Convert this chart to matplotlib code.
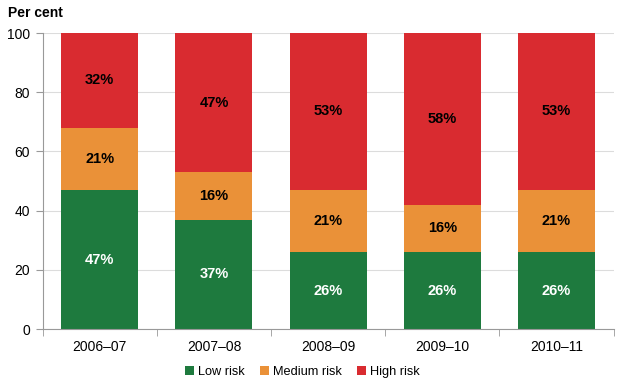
import matplotlib.pyplot as plt
import numpy as np

years = ["2006–07", "2007–08", "2008–09", "2009–10", "2010–11"]
low = [47, 37, 26, 26, 26]
medium = [21, 16, 21, 16, 21]
high = [32, 47, 53, 58, 53]

series = [("Low risk", low, "#1e7a3e", "white"),
          ("Medium risk", medium, "#ea9138", "black"),
          ("High risk", high, "#d92b30", "black")]

plt.rcParams["font.family"] = ["Liberation Sans", "DejaVu Sans"]

fig = plt.figure(figsize=(6.28, 3.84), dpi=100)
ax = fig.add_axes((0.068, 0.143, 0.909, 0.771))

x = np.arange(len(years))
bottom = np.zeros(len(years))
for name, vals, color, tcolor in series:
    ax.bar(x, vals, width=0.675, bottom=bottom, color=color, label=name, zorder=2)
    for xi, b, v in zip(x, bottom, vals):
        ax.text(xi, b + v / 2, f"{v}%", ha="center", va="center",
                color=tcolor, fontsize=10.5, fontweight="bold", zorder=3)
    bottom += np.array(vals)

ax.set_xlim(-0.5, len(years) - 0.5)
ax.set_ylim(0, 100)
ax.set_yticks(range(0, 101, 20))
ax.yaxis.grid(True, color="#dcdcdc", linewidth=0.8, zorder=0)
ax.set_axisbelow(True)

ax.set_xticks(x)
ax.set_xticklabels(years, fontsize=10)
ax.set_xticks(np.arange(-0.5, len(years)), minor=True)
ax.tick_params(axis="x", which="major", length=0, pad=8)
ax.tick_params(axis="x", which="minor", length=5, color="#999999")
ax.tick_params(axis="y", length=5, color="#999999", labelsize=10, pad=4)

for side in ["top", "right"]:
    ax.spines[side].set_visible(False)
for side in ["left", "bottom"]:
    ax.spines[side].set_color("#999999")

fig.text(0.012, 0.965, "Per cent", fontsize=10, fontweight="bold", va="center")

ax.legend(loc="upper center", bbox_to_anchor=(0.455, -0.085), ncol=3, frameon=False,
          fontsize=9.2, handlelength=0.7, handleheight=0.7, handletextpad=0.3,
          columnspacing=1.2)

fig.savefig("out.png", dpi=100)
